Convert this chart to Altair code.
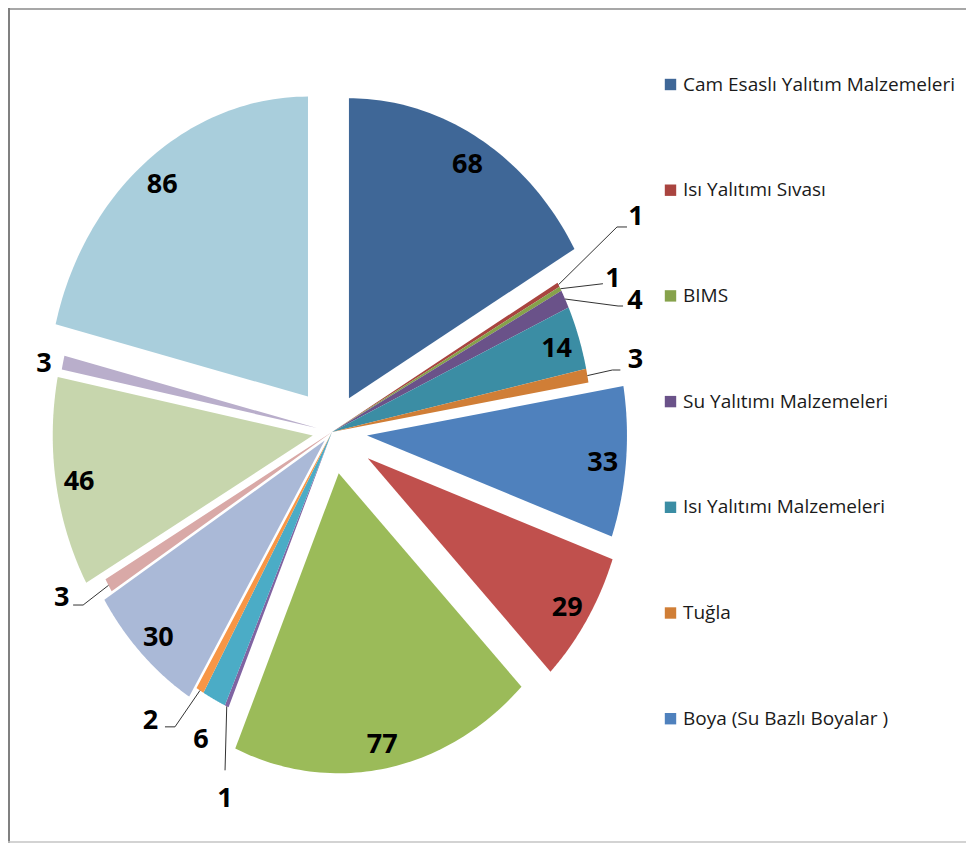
import altair as alt
import pandas as pd

# ---------------- data ----------------
NAMES = [
    "Cam Esaslı Yalıtım Malzemeleri",
    "Isı Yalıtımı Sıvası",
    "BIMS",
    "Su Yalıtımı Malzemeleri",
    "Isı Yalıtımı Malzemeleri",
    "Tuğla",
    "Boya (Su Bazlı Boyalar )",
    "Kategori 8",
    "Kategori 9",
    "Kategori 10",
    "Kategori 11",
    "Kategori 12",
    "Kategori 13",
    "Kategori 14",
    "Kategori 15",
    "Kategori 16",
    "Kategori 17",
]
VALUES = [68, 1, 1, 4, 14, 3, 33, 29, 77, 1, 6, 2, 30, 3, 46, 3, 86]
LEGEND_SHOWN = NAMES[:7]

# ---------------- styles ----------------
COLORS = ["#3F6797", "#A9443F", "#86A24B", "#6A5289", "#3B8DA4", "#D07E36",
          "#4F81BD", "#C0504D", "#9BBB59", "#8064A2", "#4BACC6", "#F79646",
          "#AAB9D7", "#D9A9A7", "#C7D6AD", "#B9AECB", "#A9CEDC"]
EXPLODE = [0.13, 0, 0, 0, 0, 0, 0.135, 0.163, 0.14, 0, 0, 0, 0.04, 0, 0.075, 0.06, 0.15]

# outside label layout (pixels, +down): elbow offset from slice edge, horizontal run,
# label offset from the end of the leader line
OUTSIDE = {
    1: dict(elx=58.5, ely=-57.7, h=10, lx=9, ly=-13, lead=1),
    2: dict(elx=42.5, ely=-5, h=0, lx=10, ly=-8, lead=1),
    3: dict(elx=53, ely=7, h=5, lx=12, ly=-8, lead=1),
    5: dict(elx=25, ely=-5.6, h=8, lx=15, ly=-13, lead=1),
    9: dict(elx=-1.7, ely=64, h=0, lx=0, ly=26, lead=1),
    10: dict(elx=0, ely=0, h=0, lx=-13, ly=38, lead=0),
    11: dict(elx=-25, ely=36.4, h=-10, lx=-14.5, ly=-9, lead=1),
    13: dict(elx=-25.4, ely=19.7, h=-10, lx=-11.5, ly=-10, lead=1),
    15: dict(elx=0, ely=0, h=0, lx=-19, ly=-2, lead=0),
}

W, H = 958, 835
CX, CY = 324, 424          # pie centre within the plot area (px)
RX, RY = 260, 300          # elliptical radii (px)
NSEG = 60
LABEL_F = 0.91
LABEL_DY = 3

rows = []
for i, (n, v) in enumerate(zip(NAMES, VALUES)):
    o = OUTSIDE.get(i, dict(elx=0, ely=0, h=0, lx=0, ly=0, lead=0))
    rows.append(dict(name=n, value=v, order=i, explode=EXPLODE[i], **o))
df = pd.DataFrame(rows)

xscale = alt.Scale(domain=[-CX, W - CX], nice=False, zero=False)
yscale = alt.Scale(domain=[CY - H, CY], nice=False, zero=False)

base = (
    alt.Chart(df)
    .transform_window(cum="sum(value)", sort=[alt.SortField("order")], frame=[None, 0])
    .transform_joinaggregate(total="sum(value)")
    .transform_calculate(
        a0="2*PI*(datum.cum - datum.value)/datum.total",
        a1="2*PI*datum.cum/datum.total",
    )
    .transform_calculate(mid="(datum.a0 + datum.a1)/2")
    .transform_calculate(
        cx=f"datum.explode*{RX}*sin(datum.mid)",
        cy=f"datum.explode*{RY}*cos(datum.mid)",
    )
    .transform_calculate(
        ox=f"datum.cx + {RX}*sin(datum.mid)",
        oy=f"datum.cy + {RY}*cos(datum.mid)",
    )
)

slices = (
    base.transform_calculate(k=f"sequence(-1, {NSEG + 1})")
    .transform_flatten(["k"])
    .transform_calculate(a=f"datum.a0 + (datum.a1 - datum.a0)*max(datum.k, 0)/{NSEG}")
    .transform_calculate(
        px=f"datum.cx + (datum.k < 0 ? 0 : {RX}*sin(datum.a))",
        py=f"datum.cy + (datum.k < 0 ? 0 : {RY}*cos(datum.a))",
    )
    .mark_line(filled=True, interpolate="linear-closed", strokeWidth=0)
    .encode(
        x=alt.X("px:Q", scale=xscale, axis=None),
        y=alt.Y("py:Q", scale=yscale, axis=None),
        color=alt.Color(
            "name:N",
            scale=alt.Scale(domain=NAMES, range=COLORS),
            legend=alt.Legend(
                title=None,
                values=LEGEND_SHOWN,
                orient="none",
                legendX=653,
                legendY=67,
                symbolType="square",
                symbolSize=130,
                symbolStrokeWidth=0,
                labelFont="Open Sans",
                labelFontSize=19,
                labelColor="#1a1a1a",
                labelOffset=3,
                labelLimit=400,
                rowPadding=85.7,
                padding=0,
            ),
        ),
        order=alt.Order("k:Q"),
    )
)

inside_labels = (
    base.transform_filter("datum.value >= 10")
    .transform_calculate(
        tx=f"datum.cx + {LABEL_F}*{RX}*sin(datum.mid)",
        ty=f"datum.cy + {LABEL_F}*{RY}*cos(datum.mid)",
    )
    .mark_text(font="Open Sans", fontSize=27, fontWeight="bold", color="black",
               align="center", baseline="middle", dy=LABEL_DY)
    .encode(
        x=alt.X("tx:Q", scale=xscale, axis=None),
        y=alt.Y("ty:Q", scale=yscale, axis=None),
        text="value:Q",
    )
)

outside = (
    base.transform_filter("datum.value < 10")
    .transform_calculate(
        elbx="datum.ox + datum.elx",
        elby="datum.oy - datum.ely",
    )
    .transform_calculate(endx="datum.elbx + datum.h", endy="datum.elby")
    .transform_calculate(labx="datum.endx + datum.lx", laby="datum.endy - datum.ly")
)

lead1 = outside.transform_filter("datum.lead == 1").mark_rule(color="#333333", strokeWidth=1).encode(
    x=alt.X("ox:Q", scale=xscale, axis=None),
    y=alt.Y("oy:Q", scale=yscale, axis=None),
    x2="elbx:Q",
    y2="elby:Q",
)
lead2 = outside.transform_filter("datum.lead == 1").mark_rule(color="#333333", strokeWidth=1).encode(
    x=alt.X("elbx:Q", scale=xscale, axis=None),
    y=alt.Y("elby:Q", scale=yscale, axis=None),
    x2="endx:Q",
    y2="endy:Q",
)
outside_labels = outside.mark_text(font="Open Sans", fontSize=27, fontWeight="bold", color="black",
                                   align="center", baseline="middle", dy=LABEL_DY).encode(
    x=alt.X("labx:Q", scale=xscale, axis=None),
    y=alt.Y("laby:Q", scale=yscale, axis=None),
    text="value:Q",
)

frame_df = pd.DataFrame({"a": [0]})
top_line = alt.Chart(frame_df).mark_rule(color="#8a8a8a", strokeWidth=1.5).encode(
    x=alt.value(0), x2=alt.value(W), y=alt.value(1))
left_line = alt.Chart(frame_df).mark_rule(color="#808080", strokeWidth=2).encode(
    x=alt.value(1), y=alt.value(0), y2=alt.value(H))
bottom_line = alt.Chart(frame_df).mark_rule(color="#c4c4c4", strokeWidth=1.5).encode(
    x=alt.value(0), x2=alt.value(W), y=alt.value(H - 1))

chart = (
    alt.layer(slices, lead1, lead2, inside_labels, outside_labels, top_line, left_line, bottom_line)
    .properties(width=W, height=H, padding=0, autosize=alt.AutoSizeParams(type="none"))
    .configure_view(stroke=None)
)

chart.save("out.html", embed_options={"renderer": "svg", "actions": False})
